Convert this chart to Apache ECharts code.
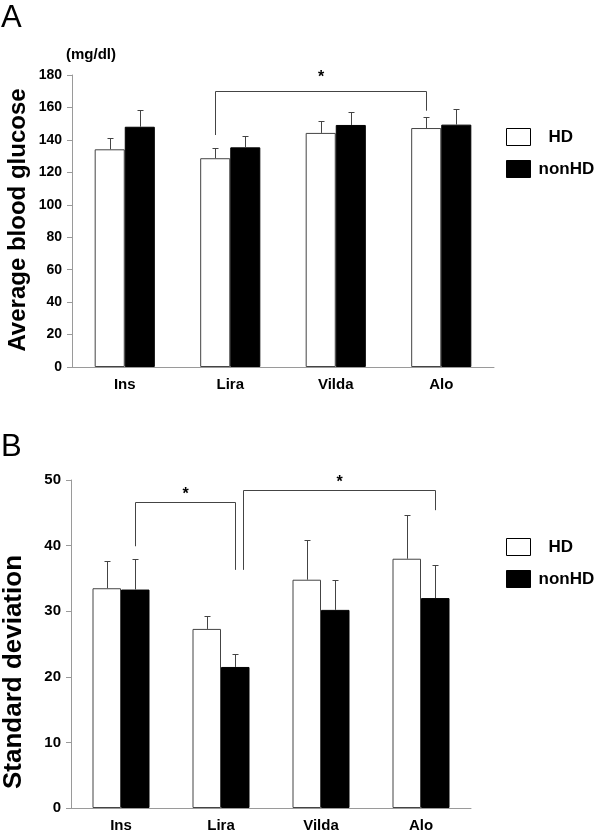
<!DOCTYPE html>
<html><head><meta charset="utf-8">
<script src="https://cdn.jsdelivr.net/npm/echarts@6/dist/echarts.min.js"></script>
<style>html,body{margin:0;padding:0;background:#fff}#c{width:600px;height:833px}</style>
</head><body><div id="c"></div>
<script>
// ---------- data ----------
const categories = ['Ins', 'Lira', 'Vilda', 'Alo'];
const groupNames = ['HD', 'nonHD'];

// Panel A: average blood glucose (mg/dl)
const glucoseHD = [134.2, 128.7, 144.3, 147.3];
const glucoseHDErr = [6.8, 6.3, 7.6, 7.0];
const glucoseNonHD = [148.1, 135.4, 149.2, 149.4];
const glucoseNonHDErr = [10.3, 7.0, 7.8, 9.5];
const glucoseAxis = { min: 0, max: 180, interval: 20 };

// Panel B: standard deviation
const sdHD = [33.5, 27.3, 34.8, 38.0];
const sdHDErr = [4.2, 1.9, 6.0, 6.6];
const sdNonHD = [33.3, 21.5, 30.2, 32.0];
const sdNonHDErr = [4.7, 2.0, 4.6, 5.1];
const sdAxis = { min: 0, max: 50, interval: 10 };

// significance brackets: from/to = [category index, group index]
const glucoseBrackets = [
  { from: [1, 0], to: [3, 0], level: 170, fromEnd: 143, toEnd: 158, label: '*' }
];
const sdBrackets = [
  { from: [0, 1], to: [1, 1], level: 46.6, fromEnd: 39.9, toEnd: 36.3, label: '*' },
  { from: [1, 1], to: [3, 1], level: 48.4, fromEnd: 36.3, toEnd: 45.4, label: '*' }
];

// ---------- styling ----------
const FONT = '"Liberation Sans", Arial, Helvetica, sans-serif';
const CAT_GAP = 0.43;
const AXIS_GRAY = '#9a9a9a';
const LINE_DARK = '#444';

function crisp(v) { return Math.round(v) + 0.5; }

function errorRender(groupPos) {
  return function (params, api) {
    const cat = api.value(0), mean = api.value(1), err = api.value(2);
    const band = api.size([1, 0])[0];
    const barW = band * (1 - CAT_GAP) / 2;
    const base = api.coord([cat, mean]);
    const top = api.coord([cat, mean + err]);
    const x = crisp(base[0] + (groupPos - 0.5) * barW);
    const yt = crisp(top[1]);
    return {
      type: 'group',
      children: [
        { type: 'line', shape: { x1: x, y1: base[1], x2: x, y2: yt }, style: { stroke: LINE_DARK, lineWidth: 1 } },
        { type: 'line', shape: { x1: x - 3, y1: yt, x2: x + 3, y2: yt }, style: { stroke: LINE_DARK, lineWidth: 1 } }
      ]
    };
  };
}

function bracketRender(brackets, starGap) {
  return function (params, api) {
    const b = brackets[params.dataIndex];
    const band = api.size([1, 0])[0];
    const barW = band * (1 - CAT_GAP) / 2;
    const px = (ref, val) => {
      const p = api.coord([ref[0], val]);
      return [p[0] + (ref[1] - 0.5) * barW, p[1]];
    };
    // nudge the left leg when it shares its anchor with an earlier bracket's right leg
    let nudge = 0;
    for (let j = 0; j < params.dataIndex; j++) {
      const o = brackets[j];
      if (o.to[0] === b.from[0] && o.to[1] === b.from[1]) nudge = 8;
    }
    const l0 = px(b.from, b.fromEnd), lTop = px(b.from, b.level);
    const r0 = px(b.to, b.toEnd);
    const xl = crisp(l0[0] + nudge), xr = crisp(r0[0]), yTop = crisp(lTop[1]);
    return {
      type: 'group',
      children: [
        { type: 'polyline', shape: { points: [[xl, l0[1]], [xl, yTop], [xr, yTop], [xr, r0[1]]] },
          style: { stroke: LINE_DARK, lineWidth: 1, fill: null } },
        { type: 'text', x: (xl + xr) / 2, y: yTop - starGap,
          style: { text: b.label, fontSize: 16, fontWeight: 'bold', fontFamily: FONT, fill: '#000',
                   align: 'center', verticalAlign: 'bottom' } }
      ]
    };
  };
}

function xAxisCfg(gridIndex) {
  return {
    type: 'category', gridIndex, data: categories,
    axisLine: { lineStyle: { color: AXIS_GRAY, width: 1 } },
    axisTick: { inside: true, length: 4, lineStyle: { color: AXIS_GRAY } },
    axisLabel: { color: '#000', fontSize: 15, fontWeight: 'bold', fontFamily: FONT, margin: 10 },
    splitLine: { show: false }
  };
}
function yAxisCfg(gridIndex, ax, fs) {
  return {
    type: 'value', gridIndex, min: ax.min, max: ax.max, interval: ax.interval,
    axisLine: { show: true, lineStyle: { color: AXIS_GRAY, width: 1 } },
    axisTick: { show: true, length: 5, lineStyle: { color: AXIS_GRAY } },
    axisLabel: { color: '#000', fontSize: fs, fontWeight: 'bold', fontFamily: FONT, margin: 10 },
    splitLine: { show: false }
  };
}
const hdStyle = { color: '#fff', borderColor: LINE_DARK, borderWidth: 1 };
const nonHdStyle = { color: '#000', borderColor: '#000', borderWidth: 1 };

function legendCfg(top) {
  return {
    orient: 'vertical', left: 506, top: top, padding: 0,
    itemWidth: 24, itemHeight: 17, itemGap: 14, icon: 'rect', selectedMode: false,
    data: [
      { name: groupNames[0], itemStyle: { color: '#fff', borderColor: '#000', borderWidth: 1 } },
      { name: groupNames[1], itemStyle: { color: '#000', borderColor: '#000', borderWidth: 1 } }
    ],
    formatter: n => n === groupNames[0] ? '{hd|' + n + '}' : '{nh|' + n + '}',
    textStyle: {
      color: '#000', fontSize: 17, fontWeight: 'bold', fontFamily: FONT,
      rich: {
        hd: { padding: [0, 0, 0, 13], fontSize: 17, fontWeight: 'bold', fontFamily: FONT, color: '#000' },
        nh: { padding: [0, 0, 0, 3], fontSize: 17, fontWeight: 'bold', fontFamily: FONT, color: '#000' }
      }
    }
  };
}

function errData(means, errs) { return categories.map((c, i) => [i, means[i], errs[i]]); }
function brData(brs) { return brs.map(b => [b.from[0], b.level]); }

const option = {
  animation: false,
  backgroundColor: '#fff',
  grid: [
    { left: 72, top: 75, width: 422, height: 292 },
    { left: 71, top: 480, width: 400, height: 328 }
  ],
  xAxis: [xAxisCfg(0), xAxisCfg(1)],
  yAxis: [yAxisCfg(0, glucoseAxis, 14), yAxisCfg(1, sdAxis, 15)],
  legend: [legendCfg(128), legendCfg(538)],
  series: [
    { type: 'bar', name: groupNames[0], xAxisIndex: 0, yAxisIndex: 0, data: glucoseHD, itemStyle: hdStyle, barGap: '0%', barCategoryGap: (CAT_GAP * 100) + '%' },
    { type: 'bar', name: groupNames[1], xAxisIndex: 0, yAxisIndex: 0, data: glucoseNonHD, itemStyle: nonHdStyle, barGap: '0%', barCategoryGap: (CAT_GAP * 100) + '%' },
    { type: 'custom', name: 'errA0', xAxisIndex: 0, yAxisIndex: 0, data: errData(glucoseHD, glucoseHDErr), renderItem: errorRender(0), encode: { x: 0, y: 1 }, z: 3 },
    { type: 'custom', name: 'errA1', xAxisIndex: 0, yAxisIndex: 0, data: errData(glucoseNonHD, glucoseNonHDErr), renderItem: errorRender(1), encode: { x: 0, y: 1 }, z: 3 },
    { type: 'custom', name: 'brA', xAxisIndex: 0, yAxisIndex: 0, data: brData(glucoseBrackets), renderItem: bracketRender(glucoseBrackets, 6), encode: { x: 0, y: 1 }, z: 4, clip: false },

    { type: 'bar', name: groupNames[0], xAxisIndex: 1, yAxisIndex: 1, data: sdHD, itemStyle: hdStyle, barGap: '0%', barCategoryGap: (CAT_GAP * 100) + '%' },
    { type: 'bar', name: groupNames[1], xAxisIndex: 1, yAxisIndex: 1, data: sdNonHD, itemStyle: nonHdStyle, barGap: '0%', barCategoryGap: (CAT_GAP * 100) + '%' },
    { type: 'custom', name: 'errB0', xAxisIndex: 1, yAxisIndex: 1, data: errData(sdHD, sdHDErr), renderItem: errorRender(0), encode: { x: 0, y: 1 }, z: 3 },
    { type: 'custom', name: 'errB1', xAxisIndex: 1, yAxisIndex: 1, data: errData(sdNonHD, sdNonHDErr), renderItem: errorRender(1), encode: { x: 0, y: 1 }, z: 3 },
    { type: 'custom', name: 'brB', xAxisIndex: 1, yAxisIndex: 1, data: brData(sdBrackets), renderItem: bracketRender(sdBrackets, 0), encode: { x: 0, y: 1 }, z: 4, clip: false }
  ],
  graphic: [
    { type: 'text', left: 1, top: 3, style: { text: 'A', fontSize: 31, fontFamily: FONT, fill: '#000' } },
    { type: 'text', left: 1, top: 432, style: { text: 'B', fontSize: 31, fontFamily: FONT, fill: '#000' } },
    { type: 'text', x: 91, y: 55, style: { text: '(mg/dl)', fontSize: 15, fontWeight: 'bold', fontFamily: FONT, fill: '#000', align: 'center', verticalAlign: 'middle' } },
    { type: 'text', x: 18, y: 220, rotation: Math.PI / 2, style: { text: 'Average blood glucose', fontSize: 24, fontWeight: 'bold', fontFamily: FONT, fill: '#000', align: 'center', verticalAlign: 'middle' } },
    { type: 'text', x: 14, y: 672, rotation: Math.PI / 2, style: { text: 'Standard deviation', fontSize: 26, fontWeight: 'bold', fontFamily: FONT, fill: '#000', align: 'center', verticalAlign: 'middle' } }
  ]
};

const chart = echarts.init(document.getElementById('c'), null, { renderer: 'canvas' });
chart.setOption(option);
</script>
</body></html>
